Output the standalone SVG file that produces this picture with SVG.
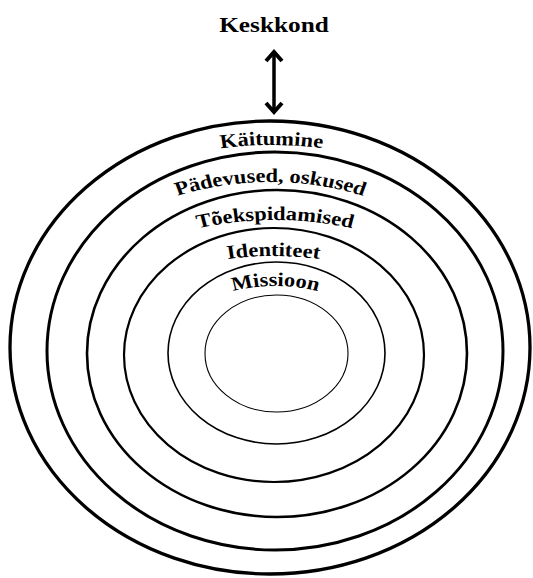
<svg xmlns="http://www.w3.org/2000/svg" width="533" height="578" viewBox="0 0 533 578">
<style>
  .ring { fill: none; stroke: #000; }
  .lbl { font-family: "Liberation Serif", "Times New Roman", serif; font-weight: bold; font-size: 19.5px; fill: #000; }
  .title { font-family: "Liberation Serif", "Times New Roman", serif; font-weight: bold; font-size: 22px; fill: #000; }
</style>
<defs>
  <marker id="chev" markerUnits="userSpaceOnUse" viewBox="-14 -12 18 24" refX="0" refY="0" markerWidth="18" markerHeight="24" orient="auto-start-reverse">
    <path d="M -9,-8 L 0,0 L -9,8" fill="none" stroke="#000" stroke-width="4" stroke-linejoin="miter"/>
  </marker>
  <path id="p1" d="M -348,545 A 348 400 0 0 1 348,545"/>
  <path id="p2" d="M -278,502 A 278 320 0 0 1 278,502"/>
  <path id="p3" d="M -313,580 A 313 360 0 0 1 313,580"/>
  <path id="p4" d="M -304,606 A 304 350 0 0 1 304,606"/>
  <path id="p5" d="M -157,466 A 157 180 0 0 1 157,466"/>
</defs>
<rect width="533" height="578" fill="#fff"/>

<g id="keskkond">
  <g transform="translate(274,0) scale(1.15,1)">
    <text class="title" x="0" y="32" text-anchor="middle">Keskkond</text>
  </g>
</g>

<g id="kaitumine">
  <ellipse class="ring" cx="270" cy="347.5" rx="260" ry="226.5" stroke-width="3.3"/>
  <g transform="translate(271.5,0) scale(1.15,1)">
    <text class="lbl" text-anchor="middle"><textPath href="#p1" startOffset="50%">Käitumine</textPath></text>
  </g>
</g>

<g id="padevused">
  <ellipse class="ring" cx="275" cy="351" rx="228" ry="199" stroke-width="3"/>
  <g transform="translate(270.5,0) scale(1.15,1)">
    <text class="lbl" text-anchor="middle"><textPath href="#p2" startOffset="50%">Pädevused, oskused</textPath></text>
  </g>
</g>

<g id="toekspidamised">
  <ellipse class="ring" cx="277" cy="353.5" rx="190" ry="163.5" stroke-width="2.6"/>
  <g transform="translate(275,0) scale(1.15,1)">
    <text class="lbl" text-anchor="middle"><textPath href="#p3" startOffset="50%">Tõekspidamised</textPath></text>
  </g>
</g>

<g id="identiteet">
  <ellipse class="ring" cx="274" cy="355" rx="150" ry="127" stroke-width="2.2"/>
  <g transform="translate(273.5,0) scale(1.15,1)">
    <text class="lbl" text-anchor="middle"><textPath href="#p4" startOffset="50%">Identiteet</textPath></text>
  </g>
</g>

<g id="missioon">
  <ellipse class="ring" cx="276.5" cy="353" rx="108.5" ry="91" stroke-width="1.6"/>
  <g transform="translate(275.5,0) scale(1.15,1)">
    <text class="lbl" text-anchor="middle"><textPath href="#p5" startOffset="50%">Missioon</textPath></text>
  </g>
</g>

<g id="core">
  <ellipse class="ring" cx="276.5" cy="353.5" rx="71.5" ry="58.5" stroke-width="1.1"/>
</g>

<g id="connectors">
  <line x1="274" y1="52" x2="274" y2="112" stroke="#000" stroke-width="3.5" marker-start="url(#chev)" marker-end="url(#chev)"/>
</g>
</svg>
